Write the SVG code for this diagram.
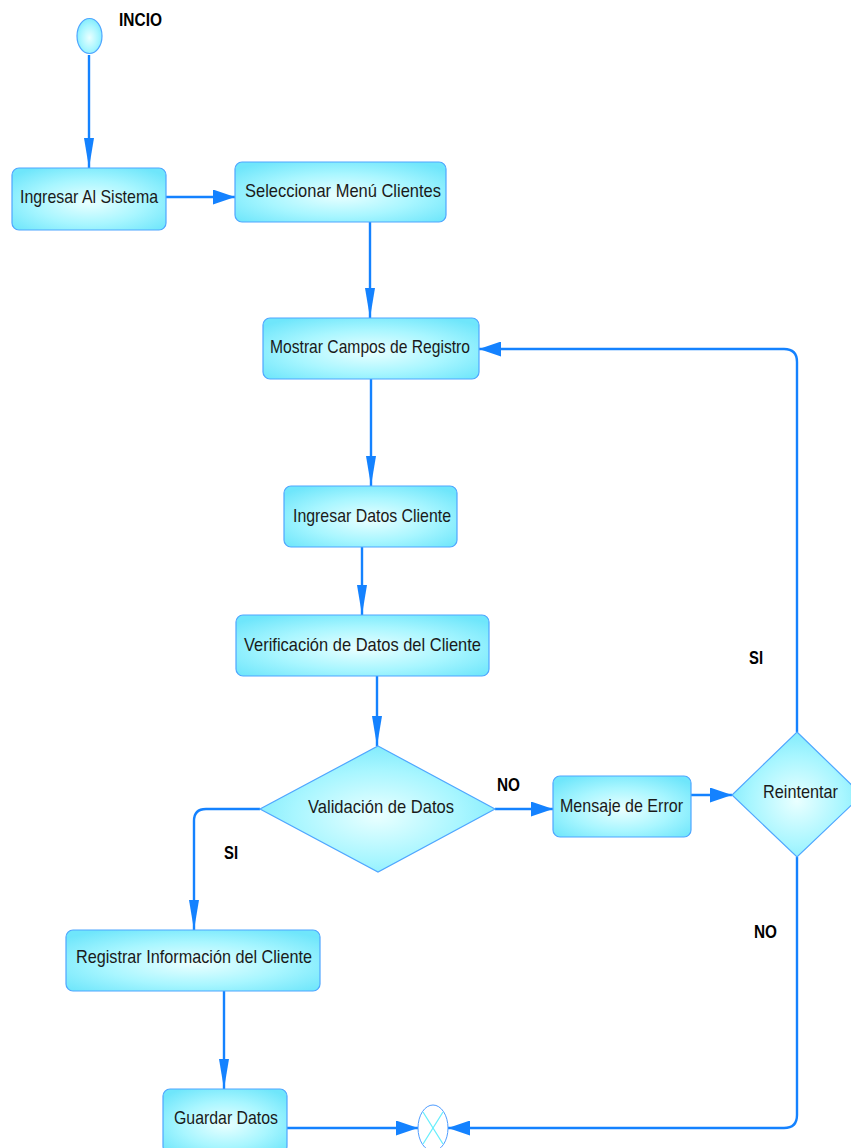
<svg xmlns="http://www.w3.org/2000/svg" width="851" height="1148" viewBox="0 0 851 1148">
  <style>
    .node { fill: url(#cyanFill); stroke: #4fa6ff; stroke-width: 1.2; }
    .lbl { font-family: "Liberation Sans", Arial, sans-serif; font-size: 19px; fill: #1a1a1a; text-anchor: start; }
    .tag { font-family: "Liberation Sans", Arial, sans-serif; font-size: 18px; font-weight: bold; fill: #000; }
    .flow { fill: none; stroke: #1482ff; stroke-width: 2.4; }
    .flowV { fill: none; stroke: #1482ff; stroke-width: 2.4; marker-end: url(#arrV); }
    .flowH { fill: none; stroke: #1482ff; stroke-width: 2.4; marker-end: url(#arrH); }
  </style>
  <defs>
    <radialGradient id="cyanFill" cx="50%" cy="55%" r="65%">
      <stop offset="0%" stop-color="#eaffff"/>
      <stop offset="55%" stop-color="#a8f6ff"/>
      <stop offset="100%" stop-color="#6fe6fb"/>
    </radialGradient>
    <!-- narrow head used on vertical runs -->
    <marker id="arrV" markerUnits="userSpaceOnUse" markerWidth="30" markerHeight="10" refX="30" refY="5" orient="auto">
      <path d="M0,0 L30,5 L0,10 z" fill="#1482ff"/>
    </marker>
    <!-- wider head used on horizontal runs -->
    <marker id="arrH" markerUnits="userSpaceOnUse" markerWidth="22" markerHeight="15" refX="22" refY="7.5" orient="auto">
      <path d="M0,0 L22,7.5 L0,15 z" fill="#1482ff"/>
    </marker>
  </defs>

  <g id="connectors">
    <line class="flowV" x1="89" y1="55" x2="89" y2="168"/>
    <line class="flowH" x1="166" y1="197" x2="235" y2="197"/>
    <line class="flowV" x1="370" y1="222" x2="370" y2="318"/>
    <line class="flowV" x1="371" y1="379" x2="371" y2="486"/>
    <line class="flowV" x1="362" y1="547" x2="362" y2="615"/>
    <line class="flowV" x1="377" y1="676" x2="377" y2="746"/>
    <path class="flowV" d="M260,809 H206 Q194,809 194,821 V930"/>
    <line class="flowH" x1="495" y1="809" x2="553" y2="809"/>
    <line class="flowH" x1="691" y1="795" x2="732" y2="795"/>
    <path class="flowH" d="M797,732 V362 Q797,349 784,349 H479"/>
    <path class="flowH" d="M797,857 V1115 Q797,1128 784,1128 H448"/>
    <line class="flowV" x1="224" y1="991" x2="224" y2="1089"/>
    <line class="flowH" x1="287" y1="1128" x2="418" y2="1128"/>
  </g>

  <g id="inicio">
    <ellipse cx="89.5" cy="36" rx="12.5" ry="17.5" class="node"/>
    <text class="tag" x="119" y="26" textLength="43" lengthAdjust="spacingAndGlyphs">INCIO</text>
  </g>

  <g id="ingresar-sistema">
    <rect x="12" y="168" width="154" height="62" rx="7" class="node"/>
    <text class="lbl" x="20" y="203" textLength="138" lengthAdjust="spacingAndGlyphs">Ingresar Al Sistema</text>
  </g>

  <g id="seleccionar-menu">
    <rect x="235" y="162" width="211" height="60" rx="7" class="node"/>
    <text class="lbl" x="245" y="197" textLength="196" lengthAdjust="spacingAndGlyphs">Seleccionar Menú Clientes</text>
  </g>

  <g id="mostrar-campos">
    <rect x="263" y="318" width="216" height="61" rx="7" class="node"/>
    <text class="lbl" x="270" y="353" textLength="200" lengthAdjust="spacingAndGlyphs">Mostrar Campos de Registro</text>
  </g>

  <g id="ingresar-datos">
    <rect x="284" y="486" width="173" height="61" rx="7" class="node"/>
    <text class="lbl" x="293" y="522" textLength="158" lengthAdjust="spacingAndGlyphs">Ingresar Datos Cliente</text>
  </g>

  <g id="verificacion">
    <rect x="236" y="615" width="253" height="61" rx="7" class="node"/>
    <text class="lbl" x="244" y="651" textLength="237" lengthAdjust="spacingAndGlyphs">Verificación de Datos del Cliente</text>
  </g>

  <g id="validacion">
    <polygon points="378,746 495,809 378,872 260,809" class="node"/>
    <text class="lbl" x="308" y="813" textLength="146" lengthAdjust="spacingAndGlyphs">Validación de Datos</text>
  </g>

  <g id="mensaje-error">
    <rect x="553" y="776" width="138" height="61" rx="7" class="node"/>
    <text class="lbl" x="560" y="812" textLength="123" lengthAdjust="spacingAndGlyphs">Mensaje de Error</text>
  </g>

  <g id="reintentar">
    <polygon points="797,732 862,795 797,857 732,795" class="node"/>
    <text class="lbl" x="763" y="798" textLength="75" lengthAdjust="spacingAndGlyphs">Reintentar</text>
  </g>

  <g id="registrar">
    <rect x="66" y="930" width="254" height="61" rx="7" class="node"/>
    <text class="lbl" x="76" y="963" textLength="236" lengthAdjust="spacingAndGlyphs">Registrar Información del Cliente</text>
  </g>

  <g id="guardar">
    <rect x="163" y="1089" width="124" height="64" rx="7" class="node"/>
    <text class="lbl" x="174" y="1124" textLength="104" lengthAdjust="spacingAndGlyphs">Guardar Datos</text>
  </g>

  <g id="fin">
    <ellipse cx="433" cy="1128" rx="15" ry="23" fill="#ffffff" stroke="#4f9dff" stroke-width="1"/>
    <line x1="423" y1="1112" x2="443" y2="1144" stroke="#66eefc" stroke-width="1.2"/>
    <line x1="443" y1="1112" x2="423" y2="1144" stroke="#66eefc" stroke-width="1.2"/>
  </g>

  <g id="guards">
    <text class="tag" x="749" y="664" textLength="14" lengthAdjust="spacingAndGlyphs">SI</text>
    <text class="tag" x="497" y="791" textLength="23" lengthAdjust="spacingAndGlyphs">NO</text>
    <text class="tag" x="224" y="859" textLength="14" lengthAdjust="spacingAndGlyphs">SI</text>
    <text class="tag" x="754" y="938" textLength="23" lengthAdjust="spacingAndGlyphs">NO</text>
  </g>
</svg>
